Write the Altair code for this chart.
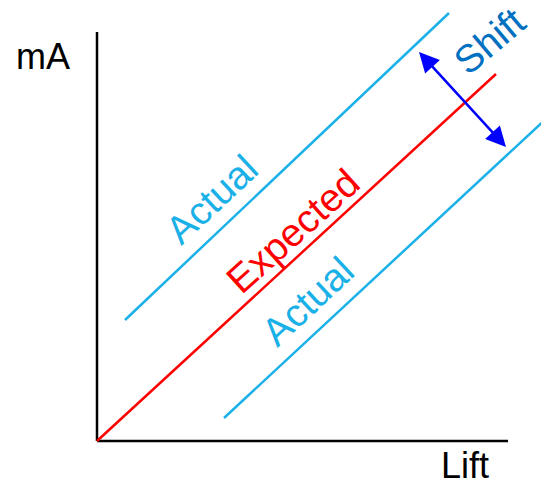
import altair as alt
import pandas as pd

# Line segments (Lift, mA) in chart units
seg_names = ["yaxis", "yaxis", "xaxis", "xaxis", "expected", "expected",
             "actual_hi", "actual_hi", "actual_lo", "actual_lo", "shift", "shift"]
seg_x = [0.0, 0.0, 0.0, 10.275, 0.0, 9.975, 0.7, 8.8, 3.175, 11.3, 8.219, 10.056]
seg_y = [0.0, 10.225, 0.0, 0.0, 0.0, 9.175, 3.025, 10.7, 0.575, 8.125, 9.54, 7.535]
seg_order = [0, 1, 0, 1, 0, 1, 0, 1, 0, 1, 0, 1]

seg_kinds = ["yaxis", "xaxis", "expected", "actual_hi", "actual_lo", "shift"]
seg_colors = ["#000000", "#000000", "#FF0000", "#1AB0E8", "#1AB0E8", "#0000FF"]
seg_widths = [2.5, 2.5, 2.0, 2.0, 2.0, 2.5]

# Arrow heads
head_x = [8.219, 10.056]
head_y = [9.54, 7.535]
head_angle = [317.5, 137.5]

# Labels
lab_text = ["Actual", "Expected", "Actual", "Shift"]
lab_x = [3.1, 5.125, 5.5, 10.03]
lab_y = [5.8, 5.0, 3.25, 9.74]
lab_color = ["#1AB0E8", "#FF0000", "#1AB0E8", "#0070C0"]
lab_angle = [317, 318, 317, 320]

ax_text = ["mA", "Lift"]
ax_x = [-1.35, 9.2]
ax_y = [9.3, -0.925]

segs = pd.DataFrame({"seg": seg_names, "x": seg_x, "y": seg_y, "o": seg_order})
heads = pd.DataFrame({"x": head_x, "y": head_y, "a": head_angle})
labs = pd.DataFrame({"t": lab_text, "x": lab_x, "y": lab_y, "c": lab_color, "a": lab_angle})
axl = pd.DataFrame({"t": ax_text, "x": ax_x, "y": ax_y})

xs = alt.Scale(domain=[-2.225, 11.1], nice=False, zero=False)
ys = alt.Scale(domain=[-0.95, 10.825], nice=False, zero=False)

lines = alt.Chart(segs).mark_line(strokeCap="butt").encode(
    x=alt.X("x:Q", scale=xs, axis=None),
    y=alt.Y("y:Q", scale=ys, axis=None),
    detail="seg:N",
    order="o:Q",
    color=alt.Color("seg:N", scale=alt.Scale(domain=seg_kinds, range=seg_colors), legend=None),
    strokeWidth=alt.StrokeWidth("seg:N", scale=alt.Scale(domain=seg_kinds, range=seg_widths), legend=None),
)

arrowheads = alt.Chart(heads).mark_point(
    shape="M0,-1L-1,1L1,1Z", filled=True, color="#0000FF", size=400, opacity=1
).encode(
    x=alt.X("x:Q", scale=xs, axis=None),
    y=alt.Y("y:Q", scale=ys, axis=None),
    angle=alt.Angle("a:Q", scale=None),
)

labels = alt.Chart(labs).mark_text(
    font="Liberation Sans", fontSize=39, align="center", baseline="alphabetic"
).encode(
    x=alt.X("x:Q", scale=xs, axis=None),
    y=alt.Y("y:Q", scale=ys, axis=None),
    text="t:N",
    color=alt.Color("c:N", scale=None),
    angle=alt.Angle("a:Q", scale=None),
)

axlabels = alt.Chart(axl).mark_text(
    font="Liberation Sans", fontSize=36, align="center", baseline="alphabetic", color="#000000"
).encode(
    x=alt.X("x:Q", scale=xs, axis=None),
    y=alt.Y("y:Q", scale=ys, axis=None),
    text="t:N",
)

chart = alt.layer(lines, arrowheads, labels, axlabels).properties(
    width=533, height=471, padding=0, autosize=alt.AutoSizeParams(type="none"),
    background="#FFFFFF",
).configure_view(stroke=None)

chart.save("out.html", embed_options={"renderer": "svg", "actions": False})
